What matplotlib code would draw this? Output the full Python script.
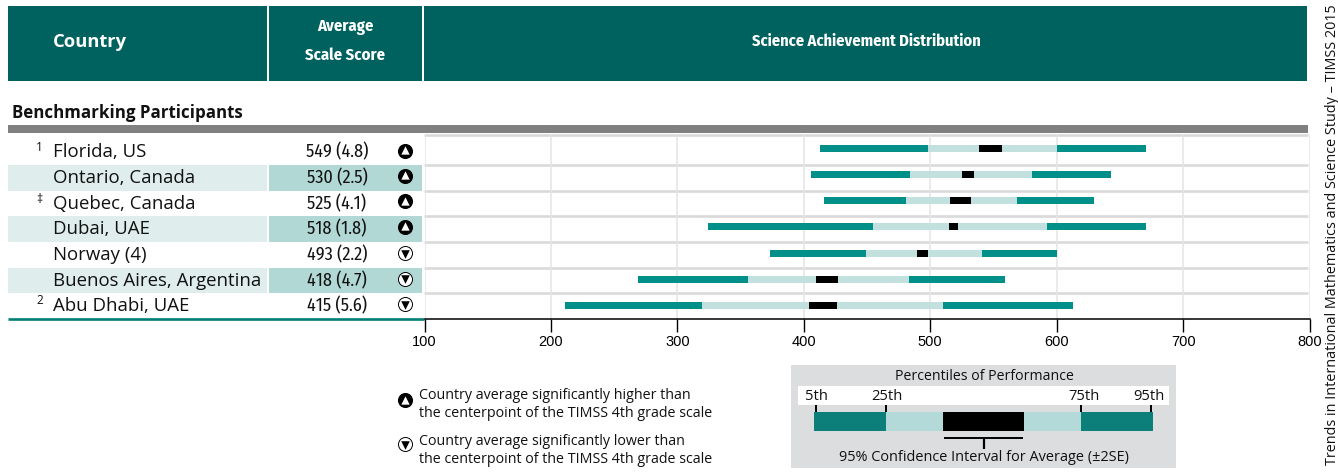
from matplotlib import pyplot as plt
from matplotlib.patches import Rectangle

countries = ["Florida, US", "Ontario, Canada", "Quebec, Canada", "Dubai, UAE",
             "Norway (4)", "Buenos Aires, Argentina", "Abu Dhabi, UAE"]
notes = ["1", "", "\u2021", "", "", "", "2"]
scores = ["549 (4.8)", "530 (2.5)", "525 (4.1)", "518 (1.8)", "493 (2.2)", "418 (4.7)", "415 (5.6)"]
higher = [True, True, True, True, False, False, False]

# percentiles and confidence interval
p5 = [413, 405.5, 416, 324.5, 373.5, 268.5, 211.5]
p25 = [498, 484, 481, 455, 449, 356, 319.5]
ci_low = [538.5, 525, 516, 515, 489.5, 409.5, 404]
ci_high = [557, 535, 532, 522, 498.5, 427, 426]
p75 = [600.5, 580.5, 569, 592.5, 541, 483, 510.5]
p95 = [671, 643, 629.5, 671, 600, 559, 613]

x_ticks = [100, 200, 300, 400, 500, 600, 700, 800]

key_labels = ["5th", "25th", "75th", "95th"]
key_marks = [816, 886, 1081, 1151]

HEADER = "#00625f"
TEAL = "#009089"
LIGHT = "#c2e0de"
BAND = "#dfeeec"
SCORE_BAND = "#b2d8d5"
KEY_TEAL = "#0d7f7a"
KEY_LIGHT = "#b3dad8"
BOXGRAY = "#dcddde"

TEXT = ["Open Sans", "DejaVu Sans"]
NARROW = ["Fira Sans Condensed", "Liberation Sans", "DejaVu Sans"]

W, H = 1338, 473
fig = plt.figure(figsize=(W / 100, H / 100), dpi=100)

# overlay in pixel coordinates for the table frame and the keys
bg = fig.add_axes([0, 0, 1, 1])
bg.set_xlim(0, W)
bg.set_ylim(H, 0)
bg.axis("off")


def box(x0, y0, x1, y1, color):
    bg.add_patch(Rectangle((x0, y0), x1 - x0, y1 - y0, facecolor=color, edgecolor="none"))


# header
box(8, 6, 1307, 81, HEADER)
box(266.5, 6, 269, 81, "white")
box(421.5, 6, 424, 81, "white")
bg.text(53, 42, "Country", color="white", fontsize=13.2, fontweight="bold", family=TEXT, va="center")
bg.text(345, 27, "Average", color="white", fontsize=12, fontweight="bold", family=NARROW, ha="center", va="center")
bg.text(345, 55.5, "Scale Score", color="white", fontsize=12, fontweight="bold", family=NARROW, ha="center", va="center")
bg.text(866, 41.5, "Science Achievement Distribution", color="white", fontsize=11.8, fontweight="bold",
        family=NARROW, ha="center", va="center")

bg.text(12, 113, "Benchmarking Participants", color="#111111", fontsize=12.2, fontweight="bold",
        family=TEXT, va="center")
box(8, 125, 1307.5, 133, "#808080")

# rows on the left
row_top = [135, 165, 191, 216, 242, 267.5, 293, 318]
text_y = [152, 178, 204, 228.7, 254.7, 280.5, 305.7]
mark_y = [150.7, 175.7, 201.3, 226.7, 253.3, 278.7, 304]
for i, name in enumerate(countries):
    if i % 2 == 1:
        box(8, row_top[i], 266.5, row_top[i + 1], BAND)
        box(269, row_top[i], 421.5, row_top[i + 1], SCORE_BAND)
    bg.text(53, text_y[i], name, fontsize=13.4, color="#111111", family=TEXT, va="center")
    bg.text(337, text_y[i], scores[i], fontsize=13, color="#111111", family=NARROW, ha="center", va="center")
    if notes[i]:
        bg.text(39.5, text_y[i] - 5, notes[i], fontsize=8.5, color="#111111", family=TEXT, ha="center", va="center")


def sig_marker(x, y, up):
    if up:
        bg.scatter([x], [y], s=118, c="black", linewidths=0, zorder=3)
        bg.scatter([x], [y - 0.5], s=36, c="white", marker="^", linewidths=0, zorder=4)
    else:
        bg.scatter([x], [y], s=102, c="white", edgecolors="black", linewidths=0.7, zorder=3)
        bg.scatter([x], [y + 0.5], s=38, c="black", marker="v", linewidths=0, zorder=4)


for i in range(len(countries)):
    sig_marker(404.5, mark_y[i], higher[i])

# row separators of the plot area
for y in [135] + row_top[1:-1]:
    bg.plot([424, 1308], [y, y], color="#dadada", lw=1.9, zorder=1, solid_capstyle="butt")
bg.plot([8, 424], [318.6, 318.6], color="#007f78", lw=1.9, solid_capstyle="butt")

# the chart itself
ax = fig.add_axes([424.5 / W, 1 - 318.6 / H, 885 / W, (318.6 - 135.2) / H])
ax.patch.set_alpha(0)
ax.set_xlim(100, 800)
ax.set_ylim(6.5, -0.5)
for s in ["top", "left", "right"]:
    ax.spines[s].set_visible(False)
ax.spines["bottom"].set_linewidth(1.1)
ax.set_yticks([])
ax.set_xticks(x_ticks)
ax.tick_params(axis="x", length=9, width=1, pad=3, labelsize=10.5)
for lab in ax.get_xticklabels():
    lab.set_family("Liberation Sans")
ax.grid(axis="x", color="#e6e6e6", lw=1.2)
ax.set_axisbelow(True)

bar_h = 0.27
for i in range(len(countries)):
    ax.barh(i, p95[i] - p5[i], left=p5[i], height=bar_h, color=TEAL)
    ax.barh(i, p75[i] - p25[i], left=p25[i], height=bar_h, color=LIGHT)
    ax.barh(i, ci_high[i] - ci_low[i], left=ci_low[i], height=bar_h, color="black")

# significance legend
sig_marker(405, 400, True)
sig_marker(405, 444, False)
bg.text(419, 395.5, "Country average significantly higher than", fontsize=10.3, color="#111111", family=TEXT, va="center")
bg.text(419, 413.5, "the centerpoint of the TIMSS 4th grade scale", fontsize=10.3, color="#111111", family=TEXT, va="center")
bg.text(419, 441.5, "Country average significantly lower than", fontsize=10.3, color="#111111", family=TEXT, va="center")
bg.text(419, 459.5, "the centerpoint of the TIMSS 4th grade scale", fontsize=10.3, color="#111111", family=TEXT, va="center")

# percentile key
box(791, 365, 1176, 468, BOXGRAY)
box(798, 386, 1169, 405, "white")
bg.text(984, 376, "Percentiles of Performance", fontsize=10.2, color="#111111", family=TEXT, ha="center", va="center")
for lab, x in zip(key_labels, [816, 887, 1084, 1149]):
    bg.text(x, 396.5, lab, fontsize=10.6, color="#111111", family=TEXT, ha="center", va="center")
for x in key_marks:
    bg.plot([x, x], [405, 412], color="black", lw=1.4, solid_capstyle="butt")
box(814, 412, 886, 431, KEY_TEAL)
box(886, 412, 943, 431, KEY_LIGHT)
box(943, 412, 1024, 431, "black")
box(1024, 412, 1081, 431, KEY_LIGHT)
box(1081, 412, 1153, 431, KEY_TEAL)
bg.plot([944, 1023], [437.5, 437.5], color="black", lw=1.4, solid_capstyle="butt")
bg.plot([983.5, 983.5], [437.5, 449], color="black", lw=1.6, solid_capstyle="butt")
bg.text(984, 457.5, "95% Confidence Interval for Average (\u00b12SE)", fontsize=10.45, color="#111111",
        family=TEXT, ha="center", va="center")

# running credit at the page edge
bg.text(1332.5, 4, "Trends in International Mathematics and Science Study \u2013 TIMSS 2015",
        rotation=90, fontsize=10.4, color="#111111", family=TEXT, ha="center", va="top")

plt.savefig("out.png", dpi=100)
